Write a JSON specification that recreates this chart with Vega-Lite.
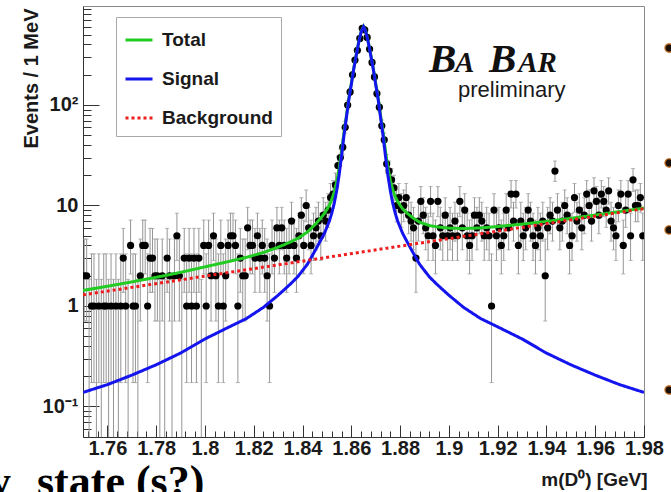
{
"$schema": "https://vega.github.io/schema/vega-lite/v6.json",
"width": 561, "height": 431,
"autosize": "none",
"padding": {"left": 83, "top": 6, "right": 27, "bottom": 55},
"background": "white",
"config": {"font": "Liberation Sans", "view": {"stroke": "#8a8a8a", "strokeWidth": 1}},
"datasets": {
"bins": [
{"m":1.7505,"n":2},{"m":1.7515,"n":2},{"m":1.7525,"n":0},{"m":1.7535,"n":1},{"m":1.7545,"n":1},{"m":1.7555,"n":0},{"m":1.7565,"n":1},{"m":1.7575,"n":0},{"m":1.7585,"n":1},{"m":1.7595,"n":1},
{"m":1.7605,"n":0},{"m":1.7615,"n":1},{"m":1.7625,"n":0},{"m":1.7635,"n":1},{"m":1.7645,"n":0},{"m":1.7655,"n":1},{"m":1.7665,"n":3},{"m":1.7675,"n":1},{"m":1.7685,"n":0},{"m":1.7695,"n":4},
{"m":1.7705,"n":1},{"m":1.7715,"n":1},{"m":1.7725,"n":0},{"m":1.7735,"n":2},{"m":1.7745,"n":4},{"m":1.7755,"n":4},{"m":1.7765,"n":1},{"m":1.7775,"n":3},{"m":1.7785,"n":3},{"m":1.7795,"n":2},
{"m":1.7805,"n":2},{"m":1.7815,"n":0},{"m":1.7825,"n":2},{"m":1.7835,"n":0},{"m":1.7845,"n":3},{"m":1.7855,"n":2},{"m":1.7865,"n":0},{"m":1.7875,"n":2},{"m":1.7885,"n":5},{"m":1.7895,"n":2},
{"m":1.7905,"n":0},{"m":1.7915,"n":3},{"m":1.7925,"n":1},{"m":1.7935,"n":3},{"m":1.7945,"n":1},{"m":1.7955,"n":3},{"m":1.7965,"n":1},{"m":1.7975,"n":3},{"m":1.7985,"n":0},{"m":1.7995,"n":4},
{"m":1.8005,"n":1},{"m":1.8015,"n":4},{"m":1.8025,"n":2},{"m":1.8035,"n":5},{"m":1.8045,"n":2},{"m":1.8055,"n":1},{"m":1.8065,"n":4},{"m":1.8075,"n":1},{"m":1.8085,"n":2},{"m":1.8095,"n":4},
{"m":1.8105,"n":5},{"m":1.8115,"n":5},{"m":1.8125,"n":4},{"m":1.8135,"n":1},{"m":1.8145,"n":3},{"m":1.8155,"n":2},{"m":1.8165,"n":2},{"m":1.8175,"n":6},{"m":1.8185,"n":4},{"m":1.8195,"n":4},
{"m":1.8205,"n":3},{"m":1.8215,"n":5},{"m":1.8225,"n":3},{"m":1.8235,"n":4},{"m":1.8245,"n":3},{"m":1.8255,"n":2},{"m":1.8265,"n":1},{"m":1.8275,"n":4},{"m":1.8285,"n":3},{"m":1.8295,"n":6},
{"m":1.8305,"n":4},{"m":1.8315,"n":6},{"m":1.8325,"n":4},{"m":1.8335,"n":3},{"m":1.8345,"n":4},{"m":1.8355,"n":7},{"m":1.8365,"n":4},{"m":1.8375,"n":3},{"m":1.8385,"n":5},{"m":1.8395,"n":8},
{"m":1.8405,"n":4},{"m":1.8415,"n":10},{"m":1.8425,"n":6},{"m":1.8435,"n":4},{"m":1.8445,"n":5},{"m":1.8455,"n":6},{"m":1.8465,"n":7},{"m":1.8475,"n":5},{"m":1.8485,"n":8},{"m":1.8495,"n":7},
{"m":1.8505,"n":9},{"m":1.8515,"n":12},{"m":1.8525,"n":13},{"m":1.8535,"n":16},{"m":1.8545,"n":25},{"m":1.8555,"n":30},{"m":1.8565,"n":38},{"m":1.8575,"n":60},{"m":1.8585,"n":100},{"m":1.8595,"n":135},
{"m":1.8605,"n":200},{"m":1.8615,"n":280},{"m":1.8625,"n":350},{"m":1.8635,"n":460},{"m":1.8645,"n":580},{"m":1.8655,"n":560},{"m":1.8665,"n":470},{"m":1.8675,"n":360},{"m":1.8685,"n":265},{"m":1.8695,"n":190},
{"m":1.8705,"n":130},{"m":1.8715,"n":95},{"m":1.8725,"n":62},{"m":1.8735,"n":45},{"m":1.8745,"n":26},{"m":1.8755,"n":22},{"m":1.8765,"n":18},{"m":1.8775,"n":15},{"m":1.8785,"n":10},{"m":1.8795,"n":12},
{"m":1.8805,"n":9},{"m":1.8815,"n":10},{"m":1.8825,"n":12},{"m":1.8835,"n":8},{"m":1.8845,"n":7},{"m":1.8855,"n":6},{"m":1.8865,"n":3},{"m":1.8875,"n":7},{"m":1.8885,"n":11},{"m":1.8895,"n":8},
{"m":1.8905,"n":6},{"m":1.8915,"n":5},{"m":1.8925,"n":11},{"m":1.8935,"n":5},{"m":1.8945,"n":4},{"m":1.8955,"n":11},{"m":1.8965,"n":6},{"m":1.8975,"n":5},{"m":1.8985,"n":8},{"m":1.8995,"n":5},
{"m":1.9005,"n":6},{"m":1.9015,"n":5},{"m":1.9025,"n":7},{"m":1.9035,"n":5},{"m":1.9045,"n":11},{"m":1.9055,"n":6},{"m":1.9065,"n":9},{"m":1.9075,"n":5},{"m":1.9085,"n":4},{"m":1.9095,"n":5},
{"m":1.9105,"n":8},{"m":1.9115,"n":6},{"m":1.9125,"n":8},{"m":1.9135,"n":7},{"m":1.9145,"n":5},{"m":1.9155,"n":6},{"m":1.9165,"n":5},{"m":1.9175,"n":1},{"m":1.9185,"n":9},{"m":1.9195,"n":5},
{"m":1.9205,"n":6},{"m":1.9215,"n":4},{"m":1.9225,"n":5},{"m":1.9235,"n":9},{"m":1.9245,"n":6},{"m":1.9255,"n":13},{"m":1.9265,"n":7},{"m":1.9275,"n":13},{"m":1.9285,"n":4},{"m":1.9295,"n":7},
{"m":1.9305,"n":5},{"m":1.9315,"n":6},{"m":1.9325,"n":9},{"m":1.9335,"n":7},{"m":1.9345,"n":5},{"m":1.9355,"n":4},{"m":1.9365,"n":6},{"m":1.9375,"n":5},{"m":1.9385,"n":7},{"m":1.9395,"n":2},
{"m":1.9405,"n":6},{"m":1.9415,"n":8},{"m":1.9425,"n":7},{"m":1.9435,"n":22},{"m":1.9445,"n":9},{"m":1.9455,"n":6},{"m":1.9465,"n":7},{"m":1.9475,"n":10},{"m":1.9485,"n":8},{"m":1.9495,"n":4},
{"m":1.9505,"n":5},{"m":1.9515,"n":12},{"m":1.9525,"n":7},{"m":1.9535,"n":9},{"m":1.9545,"n":6},{"m":1.9555,"n":8},{"m":1.9565,"n":13},{"m":1.9575,"n":10},{"m":1.9585,"n":7},{"m":1.9595,"n":14},
{"m":1.9605,"n":11},{"m":1.9615,"n":8},{"m":1.9625,"n":13},{"m":1.9635,"n":11},{"m":1.9645,"n":9},{"m":1.9655,"n":14},{"m":1.9665,"n":7},{"m":1.9675,"n":6},{"m":1.9685,"n":5},{"m":1.9695,"n":10},
{"m":1.9705,"n":13},{"m":1.9715,"n":4},{"m":1.9725,"n":9},{"m":1.9735,"n":13},{"m":1.9745,"n":5},{"m":1.9755,"n":18},{"m":1.9765,"n":10},{"m":1.9775,"n":10},{"m":1.9785,"n":12},{"m":1.9795,"n":5}
],
"poisson": [
{"n":0,"lo":0.0497,"hi":1.841},{"n":1,"lo":0.173,"hi":3.3},{"n":2,"lo":0.708,"hi":4.638},{"n":3,"lo":1.367,"hi":5.918},{"n":4,"lo":2.086,"hi":7.163},{"n":5,"lo":2.84,"hi":8.382},{"n":6,"lo":3.62,"hi":9.584},{"n":7,"lo":4.419,"hi":10.77},{"n":8,"lo":5.232,"hi":11.95},{"n":9,"lo":6.057,"hi":13.11},{"n":10,"lo":6.891,"hi":14.27},{"n":11,"lo":7.734,"hi":15.42},{"n":12,"lo":8.585,"hi":16.56},{"n":13,"lo":9.441,"hi":17.7},{"n":14,"lo":10.3,"hi":18.83},{"n":15,"lo":11.17,"hi":19.96},{"n":16,"lo":12.04,"hi":21.08},{"n":18,"lo":13.8,"hi":23.31},{"n":22,"lo":17.37,"hi":27.72},{"n":25,"lo":20.08,"hi":31.0},{"n":26,"lo":20.99,"hi":32.09},{"n":30,"lo":24.65,"hi":36.42},{"n":38,"lo":32.0,"hi":45.2},{"n":45,"lo":38.5,"hi":52.7},{"n":60,"lo":52.8,"hi":68.8},{"n":62,"lo":54.6,"hi":70.9},{"n":95,"lo":85.8,"hi":105.3},{"n":100,"lo":90.5,"hi":110.5},{"n":130,"lo":119.1,"hi":141.9},{"n":135,"lo":124.1,"hi":147.1},{"n":190,"lo":176.7,"hi":204.3},{"n":200,"lo":186.4,"hi":214.6},{"n":265,"lo":249.2,"hi":281.8},{"n":280,"lo":263.8,"hi":297.2},{"n":350,"lo":331.8,"hi":369.2},{"n":360,"lo":341.5,"hi":379.5},{"n":460,"lo":439.1,"hi":481.9},{"n":470,"lo":448.8,"hi":492.2},{"n":560,"lo":536.8,"hi":584.2},{"n":580,"lo":556.4,"hi":604.6}
],
"curves": [
{"m":1.750,"comp":"Total","v":1.428},{"m":1.760,"comp":"Total","v":1.571},{"m":1.770,"comp":"Total","v":1.737},{"m":1.780,"comp":"Total","v":1.929},{"m":1.790,"comp":"Total","v":2.159},{"m":1.800,"comp":"Total","v":2.452},{"m":1.810,"comp":"Total","v":2.78},{"m":1.817,"comp":"Total","v":3.044},{"m":1.824,"comp":"Total","v":3.407},{"m":1.830,"comp":"Total","v":3.845},{"m":1.835,"comp":"Total","v":4.327},{"m":1.838,"comp":"Total","v":4.697},{"m":1.842,"comp":"Total","v":5.443},{"m":1.845,"comp":"Total","v":6.417},{"m":1.847,"comp":"Total","v":7.268},{"m":1.849,"comp":"Total","v":8.319},{"m":1.851,"comp":"Total","v":10.07},{"m":1.852,"comp":"Total","v":11.5},{"m":1.853,"comp":"Total","v":13.63},{"m":1.854,"comp":"Total","v":17.15},{"m":1.855,"comp":"Total","v":23.18},{"m":1.856,"comp":"Total","v":34.21},{"m":1.857,"comp":"Total","v":53.23},{"m":1.858,"comp":"Total","v":78.26},{"m":1.859,"comp":"Total","v":117.3},{"m":1.860,"comp":"Total","v":163.3},{"m":1.861,"comp":"Total","v":231.3},{"m":1.862,"comp":"Total","v":313.4},{"m":1.863,"comp":"Total","v":418.4},{"m":1.864,"comp":"Total","v":533.4},{"m":1.865,"comp":"Total","v":603.5},{"m":1.866,"comp":"Total","v":533.5},{"m":1.867,"comp":"Total","v":418.5},{"m":1.868,"comp":"Total","v":313.6},{"m":1.869,"comp":"Total","v":231.6},{"m":1.870,"comp":"Total","v":163.6},{"m":1.871,"comp":"Total","v":117.6},{"m":1.872,"comp":"Total","v":78.68},{"m":1.873,"comp":"Total","v":53.71},{"m":1.874,"comp":"Total","v":34.74},{"m":1.875,"comp":"Total","v":23.78},{"m":1.876,"comp":"Total","v":17.81},{"m":1.877,"comp":"Total","v":14.34},{"m":1.878,"comp":"Total","v":12.27},{"m":1.879,"comp":"Total","v":10.91},{"m":1.881,"comp":"Total","v":9.275},{"m":1.883,"comp":"Total","v":8.344},{"m":1.885,"comp":"Total","v":7.614},{"m":1.888,"comp":"Total","v":6.822},{"m":1.892,"comp":"Total","v":6.318},{"m":1.895,"comp":"Total","v":6.132},{"m":1.900,"comp":"Total","v":5.958},{"m":1.906,"comp":"Total","v":5.894},{"m":1.913,"comp":"Total","v":5.979},{"m":1.920,"comp":"Total","v":6.175},{"m":1.930,"comp":"Total","v":6.523},{"m":1.940,"comp":"Total","v":6.935},{"m":1.950,"comp":"Total","v":7.446},{"m":1.960,"comp":"Total","v":8.036},{"m":1.970,"comp":"Total","v":8.699},{"m":1.980,"comp":"Total","v":9.438},
{"m":1.750,"comp":"Signal","v":0.138},{"m":1.760,"comp":"Signal","v":0.165},{"m":1.770,"comp":"Signal","v":0.205},{"m":1.780,"comp":"Signal","v":0.26},{"m":1.790,"comp":"Signal","v":0.34},{"m":1.800,"comp":"Signal","v":0.47},{"m":1.810,"comp":"Signal","v":0.62},{"m":1.817,"comp":"Signal","v":0.75},{"m":1.824,"comp":"Signal","v":0.97},{"m":1.830,"comp":"Signal","v":1.28},{"m":1.835,"comp":"Signal","v":1.65},{"m":1.838,"comp":"Signal","v":1.95},{"m":1.842,"comp":"Signal","v":2.6},{"m":1.845,"comp":"Signal","v":3.5},{"m":1.847,"comp":"Signal","v":4.3},{"m":1.849,"comp":"Signal","v":5.3},{"m":1.851,"comp":"Signal","v":7.0},{"m":1.852,"comp":"Signal","v":8.4},{"m":1.853,"comp":"Signal","v":10.5},{"m":1.854,"comp":"Signal","v":14},{"m":1.855,"comp":"Signal","v":20},{"m":1.856,"comp":"Signal","v":31},{"m":1.857,"comp":"Signal","v":50},{"m":1.858,"comp":"Signal","v":75},{"m":1.859,"comp":"Signal","v":114},{"m":1.860,"comp":"Signal","v":160},{"m":1.861,"comp":"Signal","v":228},{"m":1.862,"comp":"Signal","v":310},{"m":1.863,"comp":"Signal","v":415},{"m":1.864,"comp":"Signal","v":530},{"m":1.865,"comp":"Signal","v":600},{"m":1.866,"comp":"Signal","v":530},{"m":1.867,"comp":"Signal","v":415},{"m":1.868,"comp":"Signal","v":310},{"m":1.869,"comp":"Signal","v":228},{"m":1.870,"comp":"Signal","v":160},{"m":1.871,"comp":"Signal","v":114},{"m":1.872,"comp":"Signal","v":75},{"m":1.873,"comp":"Signal","v":50},{"m":1.874,"comp":"Signal","v":31},{"m":1.875,"comp":"Signal","v":20},{"m":1.876,"comp":"Signal","v":14},{"m":1.877,"comp":"Signal","v":10.5},{"m":1.878,"comp":"Signal","v":8.4},{"m":1.879,"comp":"Signal","v":7.0},{"m":1.881,"comp":"Signal","v":5.3},{"m":1.883,"comp":"Signal","v":4.3},{"m":1.885,"comp":"Signal","v":3.5},{"m":1.888,"comp":"Signal","v":2.6},{"m":1.892,"comp":"Signal","v":1.95},{"m":1.895,"comp":"Signal","v":1.65},{"m":1.900,"comp":"Signal","v":1.28},{"m":1.906,"comp":"Signal","v":0.97},{"m":1.913,"comp":"Signal","v":0.75},{"m":1.920,"comp":"Signal","v":0.62},{"m":1.930,"comp":"Signal","v":0.47},{"m":1.940,"comp":"Signal","v":0.34},{"m":1.950,"comp":"Signal","v":0.26},{"m":1.960,"comp":"Signal","v":0.205},{"m":1.970,"comp":"Signal","v":0.165},{"m":1.980,"comp":"Signal","v":0.138},
{"m":1.750,"comp":"Background","v":1.29},{"m":1.800,"comp":"Background","v":1.982},{"m":1.865,"comp":"Background","v":3.464},{"m":1.930,"comp":"Background","v":6.053},{"m":1.980,"comp":"Background","v":9.3}
],
"bullets": [
{"m":1.9903,"v":369},{"m":1.9903,"v":26.5},{"m":1.9903,"v":5.71},{"m":1.9903,"v":0.146}
]
},
"resolve": {"axis": {"x": "independent", "y": "independent"}},
"layer": [
{
"data": {"name": "bins"},
"transform": [{"lookup": "n", "from": {"data": {"name": "poisson"}, "key": "n", "fields": ["lo", "hi"]}}],
"mark": {"type": "rule", "color": "#959595", "strokeWidth": 1, "clip": true},
"encoding": {
"x": {"field": "m", "type": "quantitative", "scale": {"type": "linear", "domain": [1.75, 1.98], "nice": false, "zero": false},
"axis": {"orient": "bottom", "values": [1.76,1.78,1.8,1.82,1.84,1.86,1.88,1.9,1.92,1.94,1.96,1.98], "format": ".2~f", "grid": false, "domainColor": "#333", "tickColor": "#333", "tickSize": -12, "labelPadding": 13, "labelFontSize": 20, "labelFontWeight": "bold", "labelColor": "#1a1a1a", "labelFont": "Liberation Sans", "labelFlush": false, "labelOverlap": false, "title": "m(D⁰) [GeV]", "titleFontSize": 19, "titleFontWeight": "bold", "titleColor": "#1a1a1a", "titleFont": "Liberation Sans", "titleX": 564, "titleY": 48, "titleAlign": "right", "titleBaseline": "alphabetic"}},
"y": {"field": "lo", "type": "quantitative", "scale": {"type": "log", "domain": [0.0497, 966], "nice": false},
"axis": {"orient": "left", "values": [0.1, 1, 10, 100], "labelExpr": "datum.value < 0.5 ? '10⁻¹' : datum.value < 5 ? '1' : datum.value < 50 ? '10' : '10²'", "grid": false, "domainColor": "#333", "tickColor": "#333", "tickSize": -16, "labelPadding": 21, "labelFontSize": 20, "labelFontWeight": "bold", "labelColor": "#1a1a1a", "labelFont": "Liberation Sans", "title": "Events / 1 MeV", "titleFontSize": 20, "titleFontWeight": "bold", "titleColor": "#1a1a1a", "titleFont": "Liberation Sans", "titleX": -46, "titleY": 2, "titleAlign": "right", "titleAngle": -90, "titleBaseline": "alphabetic"}},
"y2": {"field": "hi"}
}
},
{
"data": {"name": "bins"},
"transform": [{"lookup": "n", "from": {"data": {"name": "poisson"}, "key": "n", "fields": ["lo", "hi"]}}],
"mark": {"type": "tick", "orient": "horizontal", "color": "#959595", "size": 4, "thickness": 1, "clip": true},
"encoding": {
"x": {"field": "m", "type": "quantitative", "axis": null},
"y": {"field": "hi", "type": "quantitative", "axis": null}
}
},
{
"data": {"name": "bins"},
"transform": [{"filter": "datum.n > 0"}, {"lookup": "n", "from": {"data": {"name": "poisson"}, "key": "n", "fields": ["lo", "hi"]}}],
"mark": {"type": "tick", "orient": "horizontal", "color": "#959595", "size": 4, "thickness": 1, "clip": true},
"encoding": {
"x": {"field": "m", "type": "quantitative", "axis": null},
"y": {"field": "lo", "type": "quantitative", "axis": null}
}
},
{
"data": {"name": "bins"},
"transform": [{"filter": "datum.n > 0"}],
"mark": {"type": "point", "shape": "circle", "filled": true, "color": "#000000", "opacity": 1, "size": 52, "clip": true},
"encoding": {
"x": {"field": "m", "type": "quantitative", "axis": {"orient": "bottom", "values": [1.752,1.756,1.764,1.768,1.772,1.776,1.784,1.788,1.792,1.796,1.804,1.808,1.812,1.816,1.824,1.828,1.832,1.836,1.844,1.848,1.852,1.856,1.864,1.868,1.872,1.876,1.884,1.888,1.892,1.896,1.904,1.908,1.912,1.916,1.924,1.928,1.932,1.936,1.944,1.948,1.952,1.956,1.964,1.968,1.972,1.976], "labels": false, "domain": false, "grid": false, "tickColor": "#333", "tickSize": -6, "title": null}},
"y": {"field": "n", "type": "quantitative", "axis": {"orient": "left", "values": [0.06,0.07,0.08,0.09,0.2,0.3,0.4,0.5,0.6,0.7,0.8,0.9,2,3,4,5,6,7,8,9,20,30,40,50,60,70,80,90,200,300,400,500,600,700,800,900], "labels": false, "domain": false, "grid": false, "tickColor": "#333", "tickSize": -8, "title": null}}
}
},
{
"data": {"name": "curves"},
"mark": {"type": "line", "strokeWidth": 3, "clip": true},
"encoding": {
"x": {"field": "m", "type": "quantitative", "axis": null},
"y": {"field": "v", "type": "quantitative", "axis": null},
"color": {"field": "comp", "type": "nominal", "scale": {"domain": ["Total", "Signal", "Background"], "range": ["#22cc22", "#1414ee", "#ee1c1c"]},
"legend": {"title": null, "orient": "none", "legendX": 33, "legendY": 11, "symbolType": "stroke", "symbolSize": 729, "symbolStrokeWidth": 3, "labelFontSize": 19, "labelFontWeight": "bold", "labelFont": "Liberation Sans", "labelColor": "#1a1a1a", "labelOffset": 8, "rowPadding": 14, "padding": 8, "strokeColor": "#aaaaaa", "fillColor": "white"}},
"strokeDash": {"field": "comp", "type": "nominal", "scale": {"domain": ["Total", "Signal", "Background"], "range": [[1, 0], [1, 0], [3, 3]]},
"legend": {"title": null, "orient": "none", "legendX": 33, "legendY": 11, "symbolType": "stroke", "symbolSize": 729, "symbolStrokeWidth": 3, "labelFontSize": 19, "labelFontWeight": "bold", "labelFont": "Liberation Sans", "labelColor": "#1a1a1a", "labelOffset": 8, "rowPadding": 14, "padding": 8, "strokeColor": "#aaaaaa", "fillColor": "white"}}
}
},
{
"data": {"values": [{}]},
"mark": {"type": "text", "text": "B", "font": "Liberation Serif", "fontStyle": "italic", "fontWeight": "bold", "fontSize": 41, "align": "left", "baseline": "alphabetic", "color": "#111111", "clip": false},
"encoding": {"x": {"datum": 1.8919, "type": "quantitative", "axis": null}, "y": {"datum": 213, "type": "quantitative", "axis": null}}
},
{
"data": {"values": [{}]},
"mark": {"type": "text", "text": "A", "font": "Liberation Serif", "fontStyle": "italic", "fontWeight": "bold", "fontSize": 29, "align": "left", "baseline": "alphabetic", "color": "#111111", "clip": false},
"encoding": {"x": {"datum": 1.9025, "type": "quantitative", "axis": null}, "y": {"datum": 213, "type": "quantitative", "axis": null}}
},
{
"data": {"values": [{}]},
"mark": {"type": "text", "text": "B", "font": "Liberation Serif", "fontStyle": "italic", "fontWeight": "bold", "fontSize": 41, "align": "left", "baseline": "alphabetic", "color": "#111111", "clip": false},
"encoding": {"x": {"datum": 1.9165, "type": "quantitative", "axis": null}, "y": {"datum": 213, "type": "quantitative", "axis": null}}
},
{
"data": {"values": [{}]},
"mark": {"type": "text", "text": "AR", "font": "Liberation Serif", "fontStyle": "italic", "fontWeight": "bold", "fontSize": 29, "align": "left", "baseline": "alphabetic", "color": "#111111", "clip": false},
"encoding": {"x": {"datum": 1.9284, "type": "quantitative", "axis": null}, "y": {"datum": 213, "type": "quantitative", "axis": null}}
},
{
"data": {"values": [{}]},
"mark": {"type": "text", "text": "preliminary", "font": "Liberation Sans", "fontSize": 22, "align": "left", "baseline": "alphabetic", "color": "#1a1a1a", "clip": false},
"encoding": {"x": {"datum": 1.90375, "type": "quantitative", "axis": null}, "y": {"datum": 121, "type": "quantitative", "axis": null}}
},
{
"data": {"values": [{}]},
"mark": {"type": "text", "text": "y", "font": "Liberation Serif", "fontWeight": "bold", "fontSize": 44, "align": "right", "baseline": "alphabetic", "color": "#000000", "clip": false},
"encoding": {"x": {"datum": 1.72048, "type": "quantitative", "axis": null}, "y": {"datum": 0.0128, "type": "quantitative", "axis": null}}
},
{
"data": {"values": [{}]},
"mark": {"type": "text", "text": "state (s?)", "font": "Liberation Serif", "fontWeight": "bold", "fontSize": 44, "align": "left", "baseline": "alphabetic", "color": "#000000", "clip": false},
"encoding": {"x": {"datum": 1.73114, "type": "quantitative", "axis": null}, "y": {"datum": 0.0128, "type": "quantitative", "axis": null}}
},
{
"data": {"name": "bullets"},
"mark": {"type": "point", "shape": "circle", "filled": true, "fill": "#1c1006", "stroke": "#c06a1a", "strokeWidth": 1.2, "size": 70, "opacity": 1, "clip": false},
"encoding": {"x": {"field": "m", "type": "quantitative", "axis": null}, "y": {"field": "v", "type": "quantitative", "axis": null}}
}
]
}
